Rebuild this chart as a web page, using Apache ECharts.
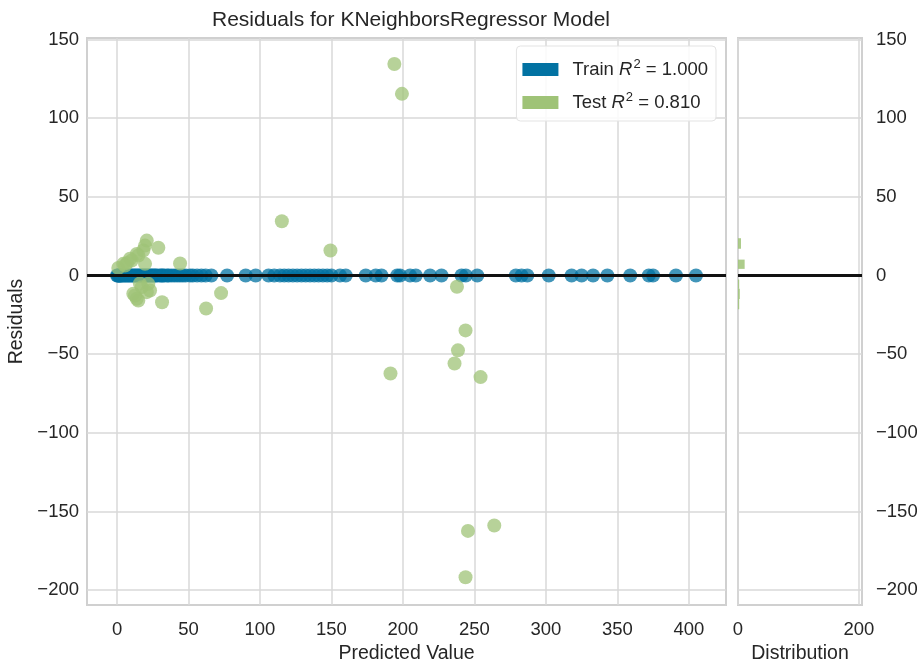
<!DOCTYPE html>
<html>
<head>
<meta charset="utf-8">
<script src="https://cdn.jsdelivr.net/npm/echarts@6.0.0/dist/echarts.min.js"></script>
<style>
  html, body { margin: 0; padding: 0; background: #ffffff; }
  #chart { width: 917px; height: 662px; }
</style>
</head>
<body>
<div id="chart"></div>
<script>
// predicted values of the training points (residual is 0 for all of them)
var trainPred = [
  0, 0.5, 1, 1.5, 2, 2.5, 3, 4, 5, 6, 7, 8, 9, 10, 11, 12, 13, 14, 15, 16, 17, 18, 19, 20,
  21, 22, 23, 24, 25, 26, 27, 28, 30, 31, 32, 33, 35, 36, 38, 40, 42, 44, 46, 48, 51, 53,
  56, 59, 62, 66, 77, 90, 97, 106, 110, 114, 117, 120, 123, 126, 129, 132, 135, 138, 141,
  144, 147, 150, 156, 160, 174, 181, 185, 196, 198, 205, 209, 219, 227, 241, 244, 252,
  279, 283, 287, 302, 318, 325, 333, 343, 359, 372, 375, 391, 405
];
var trainResid = trainPred.map(function() { return 0; });

// test points: predicted value, residual
var testPred = [
  194, 199.3, 115.3, 149.3, 44.1, 28.9, 20.8, 19.6, 18.4, 13.8, 9.1, 4.4, 19.6, 0.9, 7,
  14.9, 10.3, 5.6, 21.9, 16, 17.3, 23.1, 11.4, 13.8, 14.9, 12.6, 20.8, 31.5, 62.3, 72.8,
  237.8, 243.8, 238.5, 236.1, 191.3, 254.3, 263.9, 245.5, 243.8
];
var testResid = [
  134.5, 115.5, 34.5, 15.9, 7.6, 17.6, 22.2, 19, 15.9, 13.7, 10.6, 7.4, 7.4, 4.8, 8,
  12.7, 9.5, 6.3, -5.3, -5.1, -7.4, -9.5, -11.6, -14.8, -15.9, -12.7, -10.6, -17, -21, -11.2,
  -7.2, -34.9, -47.6, -56, -62.3, -64.6, -159, -162.4, -191.9
];

// distribution histogram of test residuals (bin low, bin high, count)
var histLow = [17.0, 4.2, -8.5, -15.0, -21.5];
var histHigh = [23.7, 10.1, -2.5, -8.5, -15.0];
var histCount = [5, 11, 2, 3, 2];

var xTicks = [0, 50, 100, 150, 200, 250, 300, 350, 400];
var yTicks = [-200, -150, -100, -50, 0, 50, 100, 150];
var distTicks = [0, 200];

var trainR2 = '1.000';
var testR2 = '0.810';

var blue = '#0272a2';
var green = '#9fc377';
var txt = '#262626';
var gridCol = '#d9d9d9';
var spineCol = '#d0d0d0';
var font = 'Liberation Sans';

function minus(v) { return String(v).replace('-', '\u2212'); }

var trainData = trainPred.map(function(x, i) { return [x, trainResid[i]]; });
var testData = testPred.map(function(x, i) { return [x, testResid[i]]; });
var histData = histLow.map(function(lo, i) { return [lo, histHigh[i], histCount[i]]; });

var chart = echarts.init(document.getElementById('chart'), null, { renderer: 'canvas' });

function valueAxis(grid, min, max, ticks, margin, extra) {
  var a = {
    type: 'value',
    gridIndex: grid,
    min: min,
    max: max,
    axisLine: { show: false },
    axisTick: { show: false, customValues: ticks },
    axisLabel: { customValues: ticks, margin: margin, color: txt, fontSize: 18.5, fontFamily: font, formatter: minus },
    splitLine: { show: true, lineStyle: { color: gridCol, width: 1.5 } }
  };
  for (var k in extra) a[k] = extra[k];
  return a;
}

var nameStyle = { color: txt, fontSize: 19.5, fontFamily: font };

chart.setOption({
  animation: false,
  backgroundColor: '#ffffff',
  title: {
    text: 'Residuals for KNeighborsRegressor Model',
    left: 406,
    top: 5,
    textAlign: 'center',
    textStyle: { color: txt, fontSize: 21, fontWeight: 'normal', fontFamily: font }
  },
  legend: {
    orient: 'vertical',
    right: 201,
    top: 46,
    padding: [12, 8, 9, 6],
    itemGap: 12,
    itemWidth: 36,
    itemHeight: 13,
    backgroundColor: 'rgba(255,255,255,0.85)',
    borderColor: '#e3e3e3',
    borderWidth: 1,
    borderRadius: 4,
    data: [
      { name: 'Train', icon: 'rect', itemStyle: { opacity: 1 } },
      { name: 'Test', icon: 'rect', itemStyle: { opacity: 1 } }
    ],
    formatter: function(name) {
      var r2 = name === 'Train' ? trainR2 : testR2;
      return '{f|' + name + ' }{i|R}{s|2}{a| = ' + r2 + '}';
    },
    textStyle: {
      color: txt,
      fontFamily: font,
      fontSize: 18.5,
      rich: {
        f: { fontSize: 18.5, fontFamily: font, color: txt, padding: [0, 0, 0, 9] },
        a: { fontSize: 18.5, fontFamily: font, color: txt },
        i: { fontSize: 18.5, fontFamily: font, fontStyle: 'italic', color: txt },
        s: { fontSize: 13, fontFamily: font, color: txt, padding: [0, 0, 10, 1] }
      }
    }
  },
  grid: [
    { left: 87, top: 38, width: 639, height: 567, outerBoundsMode: 'none', show: true, borderColor: spineCol, borderWidth: 2, backgroundColor: '#ffffff' },
    { left: 738, top: 38, width: 124, height: 567, outerBoundsMode: 'none', show: true, borderColor: spineCol, borderWidth: 2, backgroundColor: '#ffffff' }
  ],
  xAxis: [
    valueAxis(0, -21, 426, xTicks, 15, {
      name: 'Predicted Value', nameLocation: 'middle', nameGap: 33, nameTextStyle: nameStyle
    }),
    valueAxis(1, 0, 205, distTicks, 15, {
      name: 'Distribution', nameLocation: 'middle', nameGap: 33, nameTextStyle: nameStyle
    })
  ],
  yAxis: [
    valueAxis(0, -209.5, 151, yTicks, 8, {
      name: 'Residuals', nameLocation: 'middle', nameGap: 56, nameTextStyle: nameStyle
    }),
    valueAxis(1, -209.5, 151, yTicks, 14, { position: 'right' })
  ],
  series: [
    {
      name: 'Train',
      type: 'scatter',
      xAxisIndex: 0, yAxisIndex: 0,
      symbolSize: 14,
      itemStyle: { color: blue, opacity: 0.75 },
      data: trainData,
      z: 2
    },
    {
      name: 'Test',
      type: 'scatter',
      xAxisIndex: 0, yAxisIndex: 0,
      symbolSize: 14,
      itemStyle: { color: green, opacity: 0.75 },
      data: testData,
      z: 3,
      markLine: {
        silent: true,
        symbol: 'none',
        label: { show: false },
        lineStyle: { color: '#111111', width: 3, type: 'solid' },
        data: [{ yAxis: 0 }],
        z: 5
      }
    },
    {
      name: 'TestHist',
      type: 'custom',
      xAxisIndex: 1, yAxisIndex: 1,
      data: histData,
      renderItem: function(params, api) {
        var p0 = api.coord([0, api.value(0)]);
        var p1 = api.coord([api.value(2), api.value(1)]);
        return {
          type: 'rect',
          shape: { x: p0[0], y: p1[1], width: p1[0] - p0[0], height: p0[1] - p1[1] },
          style: { fill: green, opacity: 0.85 }
        };
      },
      markLine: {
        silent: true,
        symbol: 'none',
        label: { show: false },
        lineStyle: { color: '#111111', width: 3, type: 'solid' },
        data: [{ yAxis: 0 }],
        z: 5
      },
      z: 3
    }
  ]
});
</script>
</body>
</html>
